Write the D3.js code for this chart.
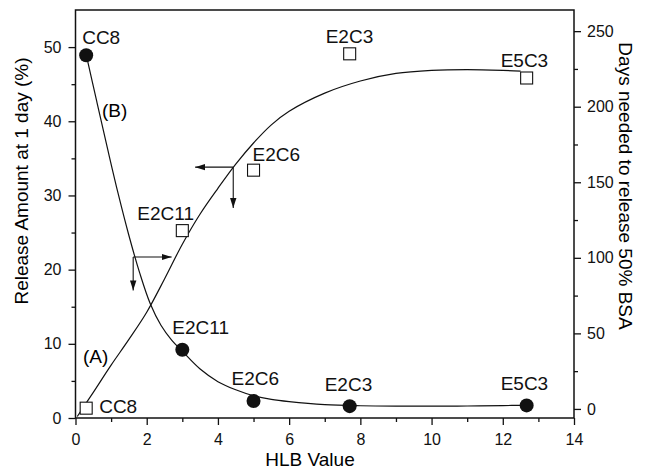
<!DOCTYPE html>
<html>
<head>
<meta charset="utf-8">
<script src="https://cdn.jsdelivr.net/npm/d3@7"></script>
<style>
  body { margin: 0; background: #fff; }
  svg { display: block; font-family: "Liberation Sans", Arial, sans-serif; }
</style>
</head>
<body>
<script>
// samples (HLB value of each surfactant)
var names = ["CC8", "E2C11", "E2C6", "E2C3", "E5C3"];
var hlb = [0.3, 3.0, 5.0, 7.7, 12.67];
// (B) release amount at 1 day (%), left axis
var release = [48.9, 9.2, 2.3, 1.6, 1.7];
// (A) days needed to release 50% BSA, right axis
var days = [0.5, 118, 158, 235, 219];

// fitted curves
var fitBx = [0.3, 0.6, 0.9, 1.2, 1.5, 1.8, 2.1, 2.4, 2.7, 3.0, 3.5, 4.0, 4.5, 5.0, 5.5, 6.0, 7.0, 8.0, 9.0, 10.0, 11.0, 12.0, 12.67];
var fitBy = [49, 42.6, 36.3, 30.2, 24.6, 19.6, 15.4, 12.5, 10.5, 9.0, 6.6, 4.9, 3.8, 3.0, 2.5, 2.2, 1.8, 1.65, 1.6, 1.6, 1.62, 1.68, 1.7];
var fitAx = [0.05, 0.5, 1.0, 1.5, 2.0, 2.5, 3.0, 3.5, 4.0, 4.5, 5.0, 5.5, 6.0, 7.0, 8.0, 9.0, 10.0, 11.0, 12.0, 12.5];
var fitAy = [-5, 11, 29, 46, 64, 86, 109, 129, 146, 162, 176, 188, 197, 209, 217, 222, 224, 224.5, 224, 223.5];

// arrows: [x0, y0, xEnd, yEnd] for curve B (left axis) and curve A (right axis)
var arrowB = [1.62, 21.7, 2.7, 17.2];
var arrowA = [4.43, 160, 3.36, 133];

var xTicks = [0, 2, 4, 6, 8, 10, 12, 14];
var leftTicks = [0, 10, 20, 30, 40, 50];
var rightTicks = [0, 50, 100, 150, 200, 250];

var width = 647, height = 471;
var m = { left: 75.5, right: 574, top: 10, bottom: 418 };

var x = d3.scaleLinear().domain([0, 14]).range([m.left, m.right]);
var yL = d3.scaleLinear().domain([0, 55]).range([m.bottom, m.top]);
var yR = d3.scaleLinear().domain([-6, 264]).range([m.bottom, m.top]);

var svg = d3.select("body").append("svg")
    .attr("width", width)
    .attr("height", height);

svg.append("defs").append("marker")
    .attr("id", "head")
    .attr("viewBox", "0 0 10 10")
    .attr("refX", 10).attr("refY", 5)
    .attr("markerWidth", 10).attr("markerHeight", 10)
    .attr("markerUnits", "userSpaceOnUse")
    .attr("orient", "auto")
    .append("path").attr("d", "M0,1.8L10,5L0,8.2Z").attr("fill", "#111");

// axes
function styleAxis(g) {
    g.selectAll(".domain").remove();
    g.selectAll("line").attr("stroke", "#111").attr("stroke-width", 1.3);
    g.selectAll("text").attr("font-size", 16).attr("fill", "#111");
}

svg.append("g").attr("transform", "translate(0," + m.bottom + ")")
    .call(d3.axisBottom(x).tickValues(d3.range(1, 14, 2)).tickSize(4).tickFormat(""))
    .call(styleAxis);
svg.append("g").attr("transform", "translate(0," + m.bottom + ")")
    .call(d3.axisBottom(x).tickValues(xTicks).tickSize(7).tickPadding(9).tickFormat(d3.format("d")))
    .call(styleAxis);

svg.append("g").attr("transform", "translate(" + m.left + ",0)")
    .call(d3.axisLeft(yL).tickValues(d3.range(5, 55, 10)).tickSize(4).tickFormat(""))
    .call(styleAxis);
svg.append("g").attr("transform", "translate(" + m.left + ",0)")
    .call(d3.axisLeft(yL).tickValues(leftTicks).tickSize(7).tickPadding(7))
    .call(styleAxis);

svg.append("g").attr("transform", "translate(" + m.right + ",0)")
    .call(d3.axisRight(yR).tickValues(d3.range(25, 260, 50)).tickSize(4).tickFormat(""))
    .call(styleAxis);
svg.append("g").attr("transform", "translate(" + m.right + ",0)")
    .call(d3.axisRight(yR).tickValues(rightTicks).tickSize(7).tickPadding(6))
    .call(styleAxis);

// frame
svg.append("rect")
    .attr("x", m.left).attr("y", m.top)
    .attr("width", m.right - m.left).attr("height", m.bottom - m.top)
    .attr("fill", "none").attr("stroke", "#111").attr("stroke-width", 1.5);

// curves
var lineB = d3.line().x(function (d, i) { return x(fitBx[i]); }).y(function (d) { return yL(d); })
    .curve(d3.curveCatmullRom.alpha(0.5));
var lineA = d3.line().x(function (d, i) { return x(fitAx[i]); }).y(function (d) { return yR(d); })
    .curve(d3.curveCatmullRom.alpha(0.5));

svg.append("path").attr("d", lineB(fitBy))
    .attr("fill", "none").attr("stroke", "#111").attr("stroke-width", 1.2);
svg.append("path").attr("d", lineA(fitAy))
    .attr("fill", "none").attr("stroke", "#111").attr("stroke-width", 1.2);

// arrows
function arrow(a, y) {
    svg.append("line")
        .attr("x1", x(a[0])).attr("y1", y(a[1]))
        .attr("x2", x(a[2])).attr("y2", y(a[1]))
        .attr("stroke", "#111").attr("stroke-width", 1.1).attr("marker-end", "url(#head)");
    svg.append("line")
        .attr("x1", x(a[0])).attr("y1", y(a[1]))
        .attr("x2", x(a[0])).attr("y2", y(a[3]))
        .attr("stroke", "#111").attr("stroke-width", 1.1).attr("marker-end", "url(#head)");
}
arrow(arrowB, yL);
arrow(arrowA, yR);

// points
svg.selectAll("circle.b").data(release).enter().append("circle")
    .attr("class", "b")
    .attr("cx", function (d, i) { return x(hlb[i]); })
    .attr("cy", function (d) { return yL(d); })
    .attr("r", 7).attr("fill", "#111");

svg.selectAll("rect.a").data(days).enter().append("rect")
    .attr("class", "a")
    .attr("x", function (d, i) { return x(hlb[i]) - 6; })
    .attr("y", function (d) { return yR(d) - 6; })
    .attr("width", 12).attr("height", 12)
    .attr("fill", "#fff").attr("stroke", "#111").attr("stroke-width", 1.1);

// point labels, pixel offsets from their marker
var offB = [[-4, -11], [-10, -16], [-22, -16], [-25, -15], [-26, -15]];
var offA = [[13, 5], [-45, -11], [-1, -9], [-24, -11], [-26, -11]];

svg.selectAll("text.lb").data(names).enter().append("text")
    .attr("class", "lb")
    .attr("x", function (d, i) { return x(hlb[i]) + offB[i][0]; })
    .attr("y", function (d, i) { return yL(release[i]) + offB[i][1]; })
    .attr("font-size", 19).attr("fill", "#111")
    .text(function (d) { return d; });

svg.selectAll("text.la").data(names).enter().append("text")
    .attr("class", "la")
    .attr("x", function (d, i) { return x(hlb[i]) + offA[i][0]; })
    .attr("y", function (d, i) { return yR(days[i]) + offA[i][1]; })
    .attr("font-size", 19).attr("fill", "#111")
    .text(function (d) { return d; });

svg.append("text").attr("x", 102).attr("y", 117).attr("font-size", 19).text("(B)");
svg.append("text").attr("x", 83).attr("y", 363).attr("font-size", 19).text("(A)");

// axis titles
svg.append("text")
    .attr("x", 310).attr("y", 466)
    .attr("text-anchor", "middle").attr("font-size", 19)
    .text("HLB Value");
svg.append("text")
    .attr("transform", "translate(28,181) rotate(-90)")
    .attr("text-anchor", "middle").attr("font-size", 19)
    .text("Release Amount at 1 day (%)");
svg.append("text")
    .attr("transform", "translate(619,186) rotate(90)")
    .attr("text-anchor", "middle").attr("font-size", 19)
    .text("Days needed to release 50% BSA");
</script>
</body>
</html>
